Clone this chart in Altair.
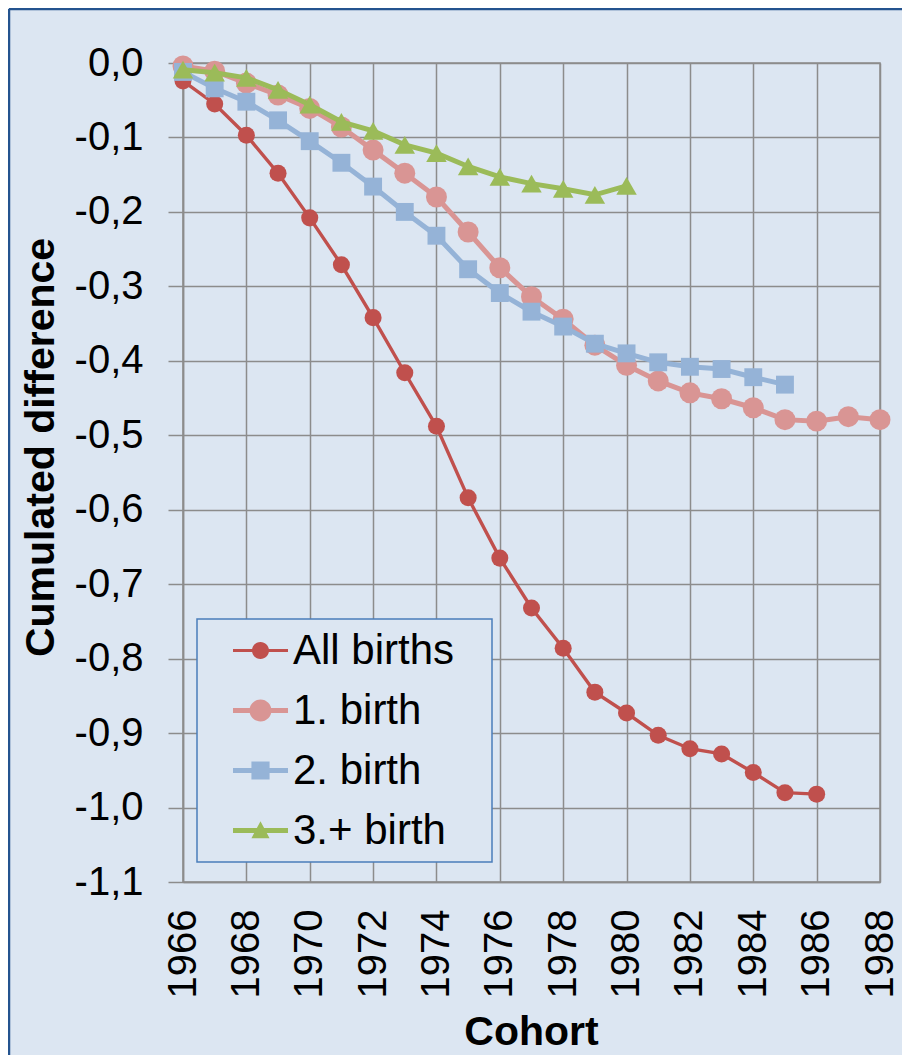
import altair as alt
import pandas as pd

# ---- data ----
series_names = ["All births", "1. birth", "2. birth", "3.+ birth"]
series_colors = ["#C0504D", "#D99594", "#95B3D7", "#9BBB59"]

years_all = list(range(1966, 1987))
all_births = [-0.024, -0.055, -0.097, -0.148, -0.208, -0.271, -0.342, -0.416, -0.488,
              -0.584, -0.665, -0.732, -0.786, -0.845, -0.873, -0.903, -0.921, -0.928,
              -0.953, -0.980, -0.982]

years_first = list(range(1966, 1989))
first_birth = [-0.004, -0.011, -0.027, -0.043, -0.061, -0.086, -0.117, -0.148, -0.180,
               -0.227, -0.275, -0.314, -0.344, -0.379, -0.406, -0.427, -0.443, -0.451,
               -0.463, -0.479, -0.481, -0.475, -0.479]

years_second = list(range(1966, 1986))
second_birth = [-0.012, -0.034, -0.052, -0.077, -0.105, -0.134, -0.166, -0.200, -0.232,
                -0.277, -0.309, -0.334, -0.354, -0.377, -0.390, -0.402, -0.408, -0.411,
                -0.422, -0.432]

years_third = list(range(1966, 1981))
third_birth = [-0.009, -0.013, -0.020, -0.036, -0.056, -0.079, -0.091, -0.110, -0.121,
               -0.139, -0.153, -0.162, -0.169, -0.177, -0.165]

x_ticks = list(range(1966, 1989, 2))
y_ticks = [0.0, -0.1, -0.2, -0.3, -0.4, -0.5, -0.6, -0.7, -0.8, -0.9, -1.0, -1.1]

# ---- styling ----
FONT = "Liberation Sans"
GRID = "#8c8c8c"
BG = "#dce6f2"

line_widths = [3.4, 5, 5, 5]
marker_shapes = ["circle", "circle", "square", "triangle-up"]
marker_sizes = [290, 440, 320, 420]

# legend symbols: line segment + marker (unit coords, scaled by sqrt(size)/2)
legend_paths = [
    "M-1,-0.058H1V0.058H-1Z M0.31,0 A0.31 0.31 0 1 1 -0.31,0 A0.31 0.31 0 1 1 0.31,0 Z",
    "M-1,-0.09H1V0.09H-1Z M0.4,0 A0.4 0.4 0 1 1 -0.4,0 A0.4 0.4 0 1 1 0.4,0 Z",
    "M-1,-0.09H1V0.09H-1Z M-0.33,-0.33H0.33V0.33H-0.33Z",
    "M-1,-0.09H1V0.09H-1Z M0,-0.34 L0.33,0.28 L-0.33,0.28 Z",
]

x_enc = alt.X(
    "Cohort:Q",
    scale=alt.Scale(domain=[1966, 1988], nice=False, zero=False),
    axis=alt.Axis(
        values=x_ticks, title="Cohort", format="d", labelAngle=270,
        ticks=False, tickSize=0, labelPadding=27,
        labelFont=FONT, labelFontSize=40, labelColor="black",
        titleFont=FONT, titleFontSize=41, titleFontWeight="bold", titleColor="black",
        titleX=348, titleY=162, titleBaseline="alphabetic", titleAlign="center",
        grid=True, gridColor=GRID, gridWidth=1.5, domainColor=GRID, domainWidth=1.5,
    ),
)
y_enc = alt.Y(
    "value:Q",
    scale=alt.Scale(domain=[-1.1, 0], nice=False, zero=False),
    axis=alt.Axis(
        values=y_ticks, title="Cumulated difference",
        labelExpr="replace(replace(format(datum.value, '.1f'), '.', ','), '\u2212', '-')",
        tickSize=15, tickColor=GRID, tickWidth=1.5, labelPadding=25,
        labelFont=FONT, labelFontSize=40, labelColor="black",
        titleFont=FONT, titleFontSize=41, titleFontWeight="bold", titleColor="black",
        titleAngle=270, titleX=-130, titleY=384, titleBaseline="alphabetic", titleAlign="center",
        grid=True, gridColor=GRID, gridWidth=1.5, domainColor=GRID, domainWidth=1.5,
    ),
)

all_years = [years_all, years_first, years_second, years_third]
all_values = [all_births, first_birth, second_birth, third_birth]

layers = []
for name, color, yrs, vals, lw, shp, sz in zip(series_names, series_colors, all_years,
                                              all_values, line_widths, marker_shapes, marker_sizes):
    df = pd.DataFrame({"Cohort": yrs, "value": vals, "series": name})
    base = alt.Chart(df)
    layers.append(base.mark_line(color=color, strokeWidth=lw, clip=False).encode(x=x_enc, y=y_enc))
    layers.append(base.mark_point(color=color, filled=True, opacity=1, shape=shp, size=sz,
                                  clip=False).encode(x=x_enc, y=y_enc))

# legend box (decorative frame) and chart border
one = pd.DataFrame({"k": [0]})
legend_box = alt.Chart(one).mark_rect(fill=BG, stroke="#4a7ebb", strokeWidth=1.5).encode(
    x=alt.value(14), x2=alt.value(309), y=alt.value(556), y2=alt.value(799))
frame_top = alt.Chart(one).mark_rule(color="#24538f", strokeWidth=2.5).encode(
    x=alt.value(-174), x2=alt.value(760), y=alt.value(-54))
frame_left = alt.Chart(one).mark_rule(color="#24538f", strokeWidth=2.5).encode(
    x=alt.value(-174), y=alt.value(-54), y2=alt.value(1010))

legend_props = dict(
    title=None, orient="none", legendX=50, legendY=560, direction="vertical",
    padding=0, labelFont=FONT, labelFontSize=42, labelColor="black",
    labelLimit=400, labelOffset=5, rowPadding=11, symbolOpacity=1,
    symbolStrokeWidth=0, symbolSize=3025)

legend_df = pd.DataFrame({"series": series_names})
legend_layer = alt.Chart(legend_df).mark_point(filled=True, opacity=0, size=3025).encode(
    color=alt.Color("series:N", scale=alt.Scale(domain=series_names, range=series_colors),
                    legend=alt.Legend(**legend_props)),
    shape=alt.Shape("series:N", scale=alt.Scale(domain=series_names, range=legend_paths),
                    legend=alt.Legend(**legend_props)),
)

chart = alt.layer(frame_top, frame_left, *layers, legend_box, legend_layer).properties(
    width=697, height=819,
    autosize=alt.AutoSizeParams(type="none"),
    padding={"left": 175, "top": 55, "right": 22, "bottom": 173},
    background=BG,
).configure_view(stroke=GRID, strokeWidth=1.5, fill="white")

chart.save("out.html", embed_options={"renderer": "svg", "actions": False})
